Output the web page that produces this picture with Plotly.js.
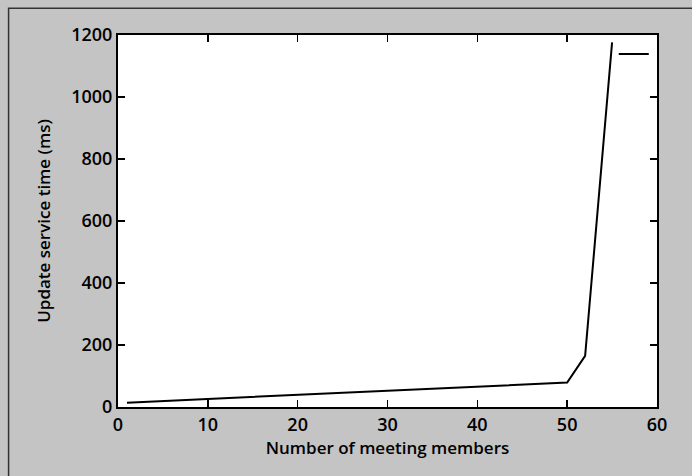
<!DOCTYPE html>
<html>
<head>
<meta charset="utf-8">
<script src="https://cdn.plot.ly/plotly-3.0.1.min.js"></script>
<style>html,body{margin:0;padding:0;background:#c4c4c4;}#chart{width:692px;height:476px;}</style>
</head>
<body>
<div id="chart"></div>
<script>
// Data
const members = [1, 50, 52, 55];
const serviceTimeMs = [14, 79, 165, 1176];
const xTickVals = [0, 10, 20, 30, 40, 50, 60];
const yTickVals = [0, 200, 400, 600, 800, 1000, 1200];
const xTitle = 'Number of meeting members';
const yTitle = 'Update service time (ms)';

const tickFont = {family: 'Open Sans, Noto Sans, sans-serif', size: 18, color: '#000', weight: 600};
const titleFont = {family: 'Open Sans, Noto Sans, sans-serif', size: 17, color: '#000', weight: 600};

const trace = {
  x: members,
  y: serviceTimeMs,
  type: 'scatter',
  mode: 'lines',
  name: '',
  line: {color: '#000', width: 2},
  showlegend: true
};

const layout = {
  width: 692,
  height: 476,
  margin: {l: 118, r: 35, t: 35, b: 69, pad: 0},
  paper_bgcolor: '#c4c4c4',
  plot_bgcolor: '#ffffff',
  showlegend: true,
  legend: {
    x: 0.9198, y: 0.949, xanchor: 'left', yanchor: 'middle',
    bgcolor: 'rgba(0,0,0,0)', borderwidth: 0,
    font: {size: 10}
  },
  xaxis: {
    range: [0, 60],
    tickvals: xTickVals,
    ticktext: xTickVals.map(String),
    ticks: 'inside', ticklen: 7, tickwidth: 1.5, tickcolor: '#000',
    showline: true, linecolor: '#000', linewidth: 2, mirror: 'ticks',
    showgrid: false, zeroline: false,
    tickfont: tickFont,
    title: {text: xTitle, font: titleFont, standoff: 8}
  },
  yaxis: {
    range: [0, 1200],
    tickvals: yTickVals,
    ticktext: yTickVals.map(String),
    ticks: 'inside', ticklen: 7, tickwidth: 1.5, tickcolor: '#000',
    showline: true, linecolor: '#000', linewidth: 2, mirror: 'ticks',
    showgrid: false, zeroline: false,
    tickfont: tickFont,
    title: {text: yTitle, font: titleFont, standoff: 16}
  },
  shapes: [{
    type: 'rect', xref: 'paper', yref: 'paper',
    x0: -0.203, x1: 1.1, y0: -0.2, y1: 1.072,
    line: {color: '#333', width: 1.5}, fillcolor: 'rgba(0,0,0,0)', layer: 'below'
  }]
};

Plotly.newPlot('chart', [trace], layout, {displayModeBar: false, staticPlot: true});
</script>
</body>
</html>
